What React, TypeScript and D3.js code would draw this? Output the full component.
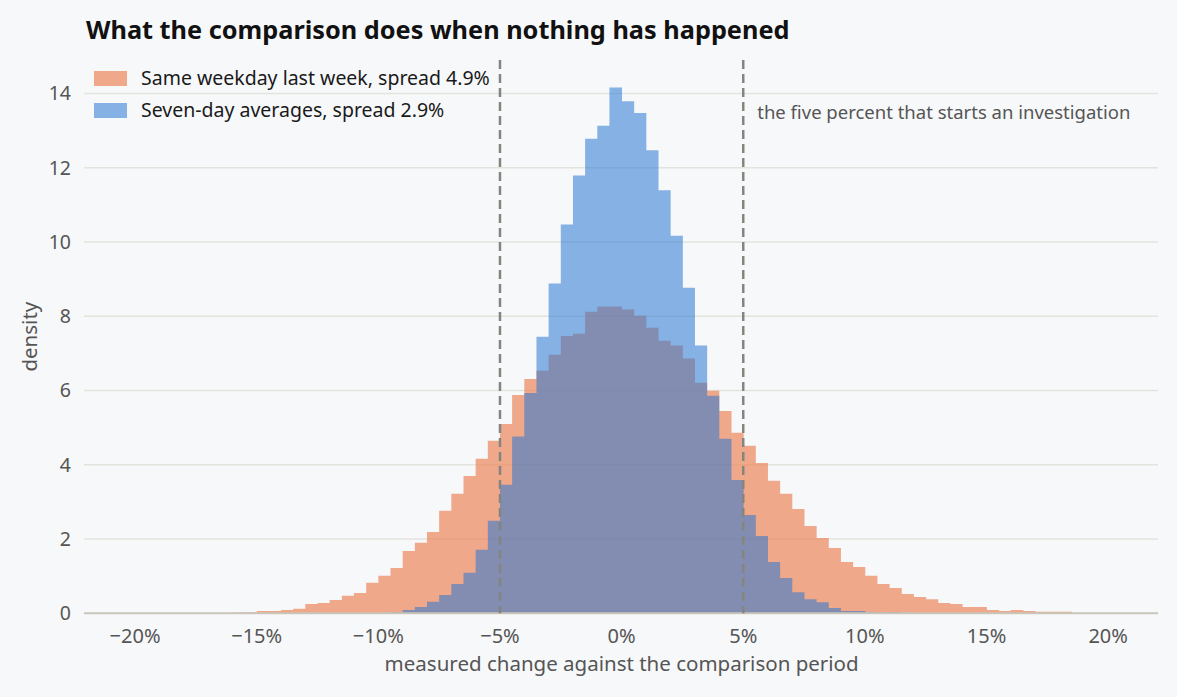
import React from "react";
import { scaleLinear, path as d3path } from "d3";

// histogram bins, 0.5 percentage-point wide, keyed by left edge (%)
const BIN_WIDTH = 0.5;

const weekdayStarts = [
  -18.5, -17.5, -17.0, -16.5, -16.0, -15.5, -15.0, -14.5, -14.0, -13.5, -13.0, -12.5, -12.0,
  -11.5, -11.0, -10.5, -10.0, -9.5, -9.0, -8.5, -8.0, -7.5, -7.0, -6.5, -6.0, -5.5, -5.0,
  -4.5, -4.0, -3.5, -3.0, -2.5, -2.0, -1.5, -1.0, -0.5, 0.0, 0.5, 1.0, 1.5, 2.0, 2.5, 3.0,
  3.5, 4.0, 4.5, 5.0, 5.5, 6.0, 6.5, 7.0, 7.5, 8.0, 8.5, 9.0, 9.5, 10.0, 10.5, 11.0, 11.5,
  12.0, 12.5, 13.0, 13.5, 14.0, 14.5, 15.0, 15.5, 16.0, 16.5, 17.0, 17.5, 18.0, 18.5, 19.5, 20.5,
];
const weekdayDensity = [
  0.01, 0.01, 0.01, 0.01, 0.02, 0.03, 0.06, 0.06, 0.09, 0.12, 0.25, 0.28, 0.36,
  0.47, 0.55, 0.82, 1.01, 1.22, 1.68, 1.9, 2.19, 2.76, 3.22, 3.7, 4.16, 4.65, 5.1,
  5.88, 6.31, 6.53, 6.96, 7.47, 7.53, 8.12, 8.26, 8.26, 8.18, 8.01, 7.69, 7.34, 7.21, 6.86, 6.21,
  5.99, 5.45, 4.86, 4.51, 4.05, 3.57, 3.22, 2.81, 2.35, 2.03, 1.76, 1.38, 1.25, 1.01, 0.79, 0.68, 0.52,
  0.44, 0.38, 0.28, 0.25, 0.17, 0.17, 0.09, 0.06, 0.09, 0.06, 0.04, 0.04, 0.04, 0.01, 0.01, 0.01,
];

const averageStarts = [
  -9.5, -9.0, -8.5, -8.0, -7.5, -7.0, -6.5, -6.0, -5.5, -5.0, -4.5, -4.0, -3.5, -3.0,
  -2.5, -2.0, -1.5, -1.0, -0.5, 0.0, 0.5, 1.0, 1.5, 2.0, 2.5, 3.0, 3.5, 4.0, 4.5, 5.0,
  5.5, 6.0, 6.5, 7.0, 7.5, 8.0, 8.5, 9.0, 9.5, 10.0, 10.5, 11.0,
];
const averageDensity = [
  0.03, 0.09, 0.17, 0.31, 0.49, 0.79, 1.09, 1.71, 2.49, 3.46, 4.76, 5.93, 7.45, 8.88,
  10.47, 11.79, 12.78, 13.13, 14.16, 13.79, 13.47, 12.47, 11.39, 10.17, 8.77, 7.21, 5.86, 4.7, 3.59, 2.65,
  2.08, 1.38, 0.95, 0.57, 0.38, 0.3, 0.14, 0.06, 0.06, 0.03, 0.02, 0.03,
];

const xTicks = [-20, -15, -10, -5, 0, 5, 10, 15, 20];
const yTicks = [0, 2, 4, 6, 8, 10, 12, 14];
const thresholds = [-5, 5];

const legendItems = [
  { label: "Same weekday last week, spread 4.9%", color: "#ED865A", opacity: 0.7 },
  { label: "Seven-day averages, spread 2.9%", color: "#2876D1", opacity: 0.55 },
];

const WIDTH = 1177;
const HEIGHT = 697;
const PLOT = { left: 84, right: 1158, top: 60, bottom: 613.3 };
const FONT = "'Segoe UI', 'Noto Sans', 'DejaVu Sans', sans-serif";

const fmtPct = (v: number) => (v < 0 ? `\u2212${Math.abs(v)}%` : `${v}%`);

export default function App() {
  const x = scaleLinear().domain([-22.1, 22.05]).range([PLOT.left, PLOT.right]);
  const y = scaleLinear().domain([0, 14.9]).range([PLOT.bottom, PLOT.top]);

  // one path per series, so adjacent bins don't leave alpha seams
  const histPath = (starts: number[], values: number[]) => {
    const p = d3path();
    starts.forEach((s, i) => {
      const x0 = x(s);
      const x1 = x(s + BIN_WIDTH);
      p.rect(x0, y(values[i]), x1 - x0 + 0.4, y(0) - y(values[i]));
    });
    return p.toString();
  };

  return (
    <>
      <style>{`body{margin:0;background:#f7f8fa}`}</style>
      <svg width={WIDTH} height={HEIGHT} style={{ display: "block", background: "#f7f8fa" }} fontFamily={FONT}>
        {/* gridlines */}
        {yTicks.filter((t) => t > 0).map((t) => (
          <line key={t} x1={PLOT.left} x2={PLOT.right} y1={y(t)} y2={y(t)} stroke="#e3e3de" strokeWidth={1.5} />
        ))}

        {/* histograms */}
        <path
          d={histPath(weekdayStarts, weekdayDensity)}
          fill={legendItems[0].color}
          fillOpacity={legendItems[0].opacity}
          fillRule="nonzero"
        />
        <path
          d={histPath(averageStarts, averageDensity)}
          fill={legendItems[1].color}
          fillOpacity={legendItems[1].opacity}
          fillRule="nonzero"
        />

        {/* baseline */}
        <line x1={PLOT.left} x2={PLOT.right} y1={y(0)} y2={y(0)} stroke="#c9c6bb" strokeWidth={2} />

        {/* threshold markers */}
        {thresholds.map((t) => (
          <line
            key={t}
            x1={x(t)}
            x2={x(t)}
            y1={PLOT.top}
            y2={PLOT.bottom}
            stroke="#85857f"
            strokeWidth={2.5}
            strokeDasharray="9 5"
          />
        ))}
        <text x={x(5) + 14} y={113} dy="0.35em" fontSize={18.5} fill="#555">
          the five percent that starts an investigation
        </text>

        {/* y axis */}
        {yTicks.map((t) => (
          <text key={t} x={71} y={y(t)} dy="0.35em" textAnchor="end" fontSize={19.5} fill="#555">
            {t}
          </text>
        ))}
        <text
          transform={`translate(30,${(PLOT.top + PLOT.bottom) / 2}) rotate(-90)`}
          textAnchor="middle"
          dy="0.35em"
          fontSize={20.5}
          fill="#555"
        >
          density
        </text>

        {/* x axis */}
        {xTicks.map((t) => (
          <text key={t} x={x(t)} y={636} dy="0.35em" textAnchor="middle" fontSize={20} fill="#555">
            {fmtPct(t)}
          </text>
        ))}
        <text x={x(0)} y={664} dy="0.35em" textAnchor="middle" fontSize={20.5} fill="#555">
          measured change against the comparison period
        </text>

        {/* legend */}
        {legendItems.map((d, i) => (
          <g key={d.label} transform={`translate(94,${71 + i * 32})`}>
            <rect width={33} height={15} fill={d.color} fillOpacity={d.opacity} />
            <text x={47} y={7.5} dy="0.35em" fontSize={19.5} fill="#1a1a1a">
              {d.label}
            </text>
          </g>
        ))}

        {/* title */}
        <text x={86} y={39} fontSize={25.3} fontWeight={700} fill="#111">
          What the comparison does when nothing has happened
        </text>
      </svg>
    </>
  );
}
